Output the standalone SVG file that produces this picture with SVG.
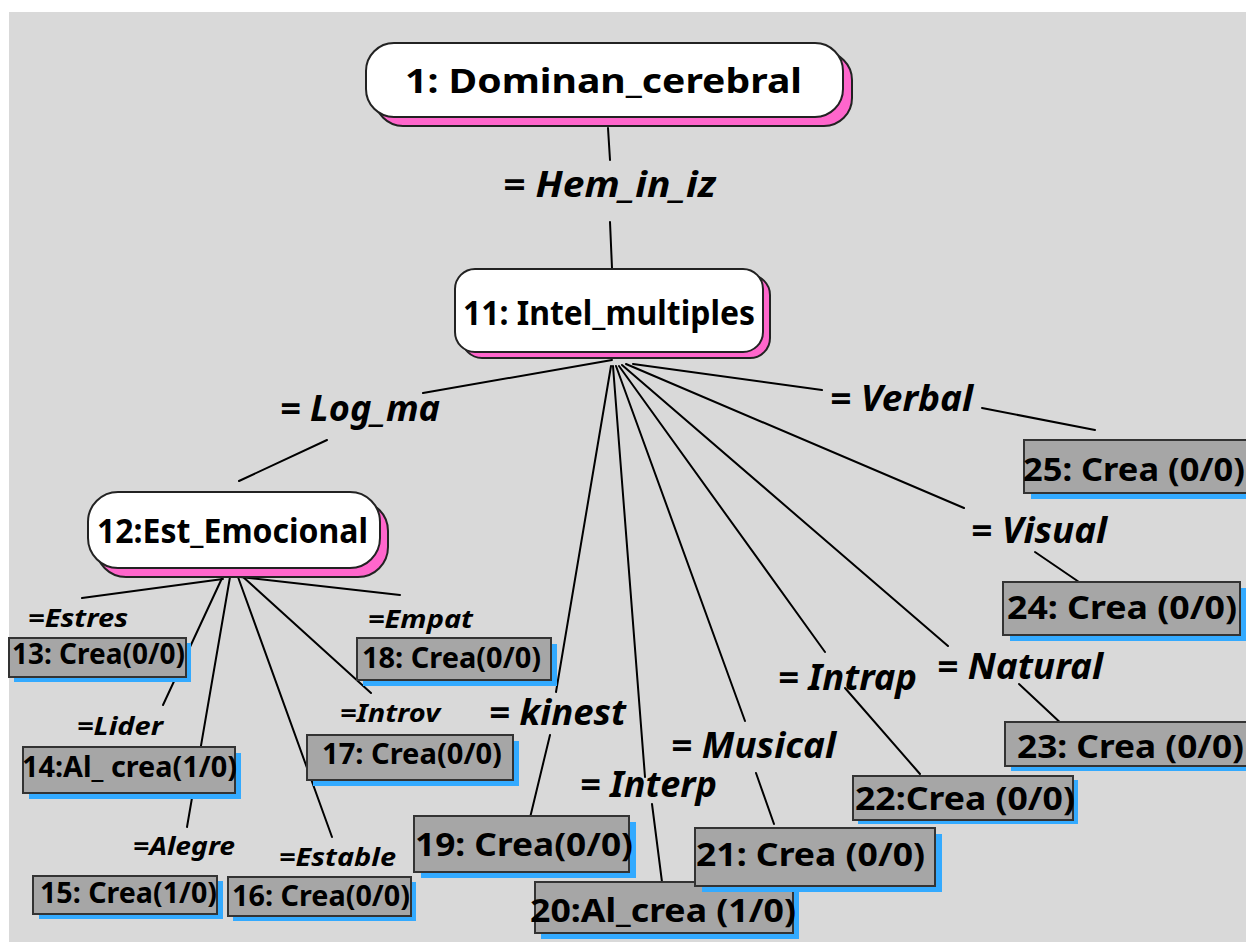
<svg xmlns="http://www.w3.org/2000/svg" width="1246" height="942" viewBox="0 0 1246 942">
  <style>
    .bg { fill: #d9d9d9; }
    .conn line { stroke: #000; stroke-width: 2; stroke-linecap: round; }
    .node .shadow { fill: #ff66cc; stroke: #222; stroke-width: 2; }
    .node .face { fill: #ffffff; stroke: #222; stroke-width: 2; }
    .leaf .shadow { fill: #33aaff; }
    .leaf .face { fill: #a6a6a6; stroke: #333; stroke-width: 2; }
    text { font-family: "Noto Sans", "Open Sans", "DejaVu Sans", sans-serif; font-weight: bold; fill: #000; }
    .title { font-size: 34px; }
    .lbl { font-style: italic; font-size: 36px; }
    .slbl { font-style: italic; font-size: 25px; }
    .leaf text { font-size: 28px; }
    .leaf.big text { font-size: 33px; }
  </style>

  <rect width="1246" height="942" fill="#ffffff"/>
  <rect class="bg" x="9" y="12" width="1237" height="930"/>

  <!-- connectors: parent → label, label → child -->
  <g id="connectors" class="conn">
    <line x1="608" y1="128" x2="610" y2="160"/>
    <line x1="610" y1="222" x2="612" y2="268"/>

    <line x1="612" y1="360" x2="423" y2="393"/>
    <line x1="327" y1="440" x2="239" y2="481"/>

    <line x1="633" y1="364" x2="822" y2="390"/>
    <line x1="982" y1="408" x2="1095" y2="430"/>

    <line x1="626" y1="364" x2="964" y2="508"/>
    <line x1="1035" y1="552" x2="1079" y2="582"/>

    <line x1="622" y1="365" x2="948" y2="646"/>
    <line x1="1019" y1="684" x2="1065" y2="727"/>

    <line x1="619" y1="366" x2="825" y2="652"/>
    <line x1="845" y1="688" x2="920" y2="774"/>

    <line x1="616" y1="366" x2="745" y2="721"/>
    <line x1="756" y1="773" x2="774" y2="824"/>

    <line x1="613" y1="366" x2="645" y2="777"/>
    <line x1="652" y1="804" x2="662" y2="882"/>

    <line x1="611" y1="366" x2="556" y2="692"/>
    <line x1="550" y1="735" x2="529" y2="822"/>

    <line x1="223" y1="579" x2="82" y2="598"/>
    <line x1="240" y1="577" x2="400" y2="595"/>
    <line x1="223" y1="576" x2="163" y2="705"/>
    <line x1="230" y1="577" x2="187" y2="827"/>
    <line x1="238" y1="577" x2="332" y2="837"/>
    <line x1="242" y1="576" x2="371" y2="693"/>
  </g>

  <!-- relation labels -->
  <g id="labels">
    <text class="lbl" x="503" y="197" textLength="213" lengthAdjust="spacingAndGlyphs">= Hem_in_iz</text>
    <text class="lbl" x="280" y="421" textLength="160" lengthAdjust="spacingAndGlyphs">= Log_ma</text>
    <text class="lbl" x="830" y="411" textLength="143" lengthAdjust="spacingAndGlyphs">= Verbal</text>
    <text class="lbl" x="971" y="543" textLength="136" lengthAdjust="spacingAndGlyphs">= Visual</text>
    <text class="lbl" x="937" y="679" textLength="166" lengthAdjust="spacingAndGlyphs">= Natural</text>
    <text class="lbl" x="778" y="690" textLength="139" lengthAdjust="spacingAndGlyphs">= Intrap</text>
    <text class="lbl" x="671" y="758" textLength="165" lengthAdjust="spacingAndGlyphs">= Musical</text>
    <text class="lbl" x="580" y="797" textLength="137" lengthAdjust="spacingAndGlyphs">= Interp</text>
    <text class="lbl" x="489" y="725" textLength="137" lengthAdjust="spacingAndGlyphs">= kinest</text>

    <text class="slbl" x="28" y="627" textLength="100" lengthAdjust="spacingAndGlyphs">=Estres</text>
    <text class="slbl" x="368" y="628" textLength="105" lengthAdjust="spacingAndGlyphs">=Empat</text>
    <text class="slbl" x="340" y="722" textLength="100" lengthAdjust="spacingAndGlyphs">=Introv</text>
    <text class="slbl" x="77" y="735" textLength="86" lengthAdjust="spacingAndGlyphs">=Lider</text>
    <text class="slbl" x="133" y="855" textLength="102" lengthAdjust="spacingAndGlyphs">=Alegre</text>
    <text class="slbl" x="279" y="866" textLength="117" lengthAdjust="spacingAndGlyphs">=Estable</text>
  </g>

  <!-- concept nodes -->
  <g id="node-1" class="node">
    <rect class="shadow" x="375" y="52" width="477" height="74" rx="28"/>
    <rect class="face" x="366" y="43" width="477" height="74" rx="28"/>
    <text class="title" x="405" y="93" textLength="397" lengthAdjust="spacingAndGlyphs">1: Dominan_cerebral</text>
  </g>
  <g id="node-11" class="node">
    <rect class="shadow" x="462" y="275" width="308" height="83" rx="20"/>
    <rect class="face" x="455" y="269" width="308" height="83" rx="20"/>
    <text class="title" x="463" y="325" textLength="292" lengthAdjust="spacingAndGlyphs">11: Intel_multiples</text>
  </g>
  <g id="node-12" class="node">
    <rect class="shadow" x="96" y="501" width="292" height="76" rx="30"/>
    <rect class="face" x="88" y="492" width="292" height="76" rx="30"/>
    <text class="title" x="97" y="543" textLength="271" lengthAdjust="spacingAndGlyphs">12:Est_Emocional</text>
  </g>

  <!-- leaf nodes -->
  <g id="node-13" class="leaf">
    <rect class="shadow" x="14" y="643" width="177" height="39"/>
    <rect class="face" x="9" y="638" width="177" height="39"/>
    <text x="12" y="664" textLength="173" lengthAdjust="spacingAndGlyphs">13: Crea(0/0)</text>
  </g>
  <g id="node-14" class="leaf">
    <rect class="shadow" x="29" y="753" width="212" height="46"/>
    <rect class="face" x="23" y="747" width="212" height="46"/>
    <text x="22" y="777" textLength="215" lengthAdjust="spacingAndGlyphs">14:Al_ crea(1/0)</text>
  </g>
  <g id="node-15" class="leaf">
    <rect class="shadow" x="39" y="881" width="184" height="38"/>
    <rect class="face" x="33" y="876" width="184" height="38"/>
    <text x="40" y="903" textLength="177" lengthAdjust="spacingAndGlyphs">15: Crea(1/0)</text>
  </g>
  <g id="node-16" class="leaf">
    <rect class="shadow" x="233" y="882" width="183" height="39"/>
    <rect class="face" x="228" y="877" width="183" height="39"/>
    <text x="232" y="906" textLength="178" lengthAdjust="spacingAndGlyphs">16: Crea(0/0)</text>
  </g>
  <g id="node-17" class="leaf">
    <rect class="shadow" x="313" y="741" width="206" height="45"/>
    <rect class="face" x="307" y="735" width="206" height="45"/>
    <text x="322" y="764" textLength="180" lengthAdjust="spacingAndGlyphs">17: Crea(0/0)</text>
  </g>
  <g id="node-18" class="leaf">
    <rect class="shadow" x="363" y="644" width="194" height="42"/>
    <rect class="face" x="357" y="638" width="194" height="42"/>
    <text x="362" y="668" textLength="179" lengthAdjust="spacingAndGlyphs">18: Crea(0/0)</text>
  </g>
  <g id="node-19" class="leaf big">
    <rect class="shadow" x="421" y="822" width="215" height="56"/>
    <rect class="face" x="414" y="816" width="215" height="56"/>
    <text x="415" y="856" textLength="218" lengthAdjust="spacingAndGlyphs">19: Crea(0/0)</text>
  </g>
  <g id="node-20" class="leaf big">
    <rect class="shadow" x="541" y="888" width="258" height="51"/>
    <rect class="face" x="535" y="882" width="258" height="51"/>
    <text x="530" y="922" textLength="266" lengthAdjust="spacingAndGlyphs">20:Al_crea (1/0)</text>
  </g>
  <g id="node-21" class="leaf big">
    <rect class="shadow" x="702" y="834" width="240" height="58"/>
    <rect class="face" x="695" y="828" width="240" height="58"/>
    <text x="696" y="866" textLength="229" lengthAdjust="spacingAndGlyphs">21: Crea (0/0)</text>
  </g>
  <g id="node-22" class="leaf big">
    <rect class="shadow" x="858" y="780" width="220" height="44"/>
    <rect class="face" x="853" y="776" width="220" height="44"/>
    <text x="855" y="810" textLength="220" lengthAdjust="spacingAndGlyphs">22:Crea (0/0)</text>
  </g>
  <g id="node-23" class="leaf big">
    <rect class="shadow" x="1011" y="727" width="250" height="44"/>
    <rect class="face" x="1005" y="722" width="250" height="44"/>
    <text x="1017" y="758" textLength="227" lengthAdjust="spacingAndGlyphs">23: Crea (0/0)</text>
  </g>
  <g id="node-24" class="leaf big">
    <rect class="shadow" x="1010" y="588" width="237" height="53"/>
    <rect class="face" x="1003" y="582" width="237" height="53"/>
    <text x="1007" y="619" textLength="230" lengthAdjust="spacingAndGlyphs">24: Crea (0/0)</text>
  </g>
  <g id="node-25" class="leaf big">
    <rect class="shadow" x="1031" y="446" width="230" height="53"/>
    <rect class="face" x="1024" y="440" width="230" height="53"/>
    <text x="1023" y="481" textLength="222" lengthAdjust="spacingAndGlyphs">25: Crea (0/0)</text>
  </g>
</svg>
